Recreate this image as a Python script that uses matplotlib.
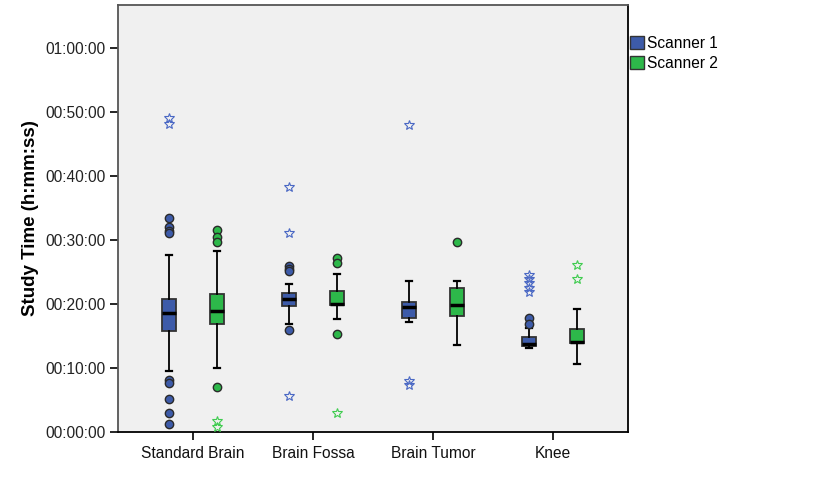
import matplotlib
matplotlib.use('Agg')
import matplotlib.pyplot as plt
from matplotlib.patches import Patch

plt.rcParams['font.family'] = ['Liberation Sans', 'DejaVu Sans']

# study time in minutes
categories = ['Standard Brain', 'Brain Fossa', 'Brain Tumor', 'Knee']
series = ['Scanner 1', 'Scanner 2']

s1_whislo = [9.4, 16.75, 17.05, 13.1]
s1_q1 = [15.7, 19.6, 17.7, 13.4]
s1_med = [18.45, 20.65, 19.5, 13.7]
s1_q3 = [20.65, 21.7, 20.2, 14.7]
s1_whishi = [27.6, 23.0, 23.5, 16.1]
s1_circles = [[33.3, 32.0, 31.4, 31.0, 8.05, 7.65, 5.1, 2.95, 1.1],
              [25.85, 25.45, 25.05, 15.85],
              [],
              [17.7, 16.75]]
s1_stars = [[48.95, 48.05],
            [38.25, 31.05, 5.6],
            [47.9, 7.9, 7.3],
            [24.5, 23.8, 23.15, 22.45, 21.75]]

s2_whislo = [9.9, 17.6, 13.5, 10.55]
s2_q1 = [16.75, 19.75, 18.1, 13.8]
s2_med = [18.9, 19.9, 19.8, 14.05]
s2_q3 = [21.45, 21.9, 22.4, 16.05]
s2_whishi = [28.2, 24.65, 23.5, 19.2]
s2_circles = [[31.5, 30.35, 29.6, 7.0],
              [27.15, 26.4, 15.25],
              [29.6],
              []]
s2_stars = [[1.7, 0.75],
            [2.85],
            [],
            [26.05, 23.85]]

ytick_labels = ['00:00:00', '00:10:00', '00:20:00', '00:30:00',
                '00:40:00', '00:50:00', '01:00:00']

colors = ['#3d5ba9', '#2db84a']
star_colors = ['#4a68c4', '#3fcc4f']

fig = plt.figure(figsize=(8.38, 5.0), dpi=100)
ax = fig.add_axes([0.1414, 0.137, 0.608, 0.853])
ax.set_facecolor('#f0f0f0')

groups = [
    (s1_whislo, s1_q1, s1_med, s1_q3, s1_whishi, s1_circles, s1_stars),
    (s2_whislo, s2_q1, s2_med, s2_q3, s2_whishi, s2_circles, s2_stars),
]
offsets = [-0.2, 0.2]

for k, (wlo, q1, med, q3, whi, circ, stars) in enumerate(groups):
    stats = []
    for i in range(len(categories)):
        stats.append({'whislo': wlo[i], 'q1': q1[i], 'med': med[i],
                      'q3': q3[i], 'whishi': whi[i], 'fliers': []})
    pos = [i + offsets[k] for i in range(len(categories))]
    ax.bxp(stats, positions=pos, widths=0.11, patch_artist=True,
           showfliers=False, manage_ticks=False,
           boxprops=dict(facecolor=colors[k], edgecolor='#333333', linewidth=1.3),
           medianprops=dict(color='black', linewidth=2.5),
           whiskerprops=dict(color='black', linewidth=1.3),
           capprops=dict(color='black', linewidth=1.6),
           capwidths=0.05)
    for i in range(len(categories)):
        if circ[i]:
            ax.plot([pos[i]] * len(circ[i]), circ[i], 'o', ms=6,
                    mfc=colors[k], mec='#2a2a2a', mew=1.0, zorder=4)
        if stars[i]:
            ax.plot([pos[i]] * len(stars[i]), stars[i], '*', ms=7.5,
                    mfc='none', mec=star_colors[k], mew=0.8, zorder=4)

ax.set_xlim(-0.62, 3.625)
ax.set_ylim(0, 66.65)
ax.set_xticks(range(len(categories)))
ax.set_xticklabels(categories, fontsize=11.2, color='#111111')
ax.set_yticks([0, 10, 20, 30, 40, 50, 60])
ax.set_yticklabels(ytick_labels, fontsize=11.2, color='#222222')
ax.tick_params(axis='both', direction='out', length=6, width=1.2, pad=3)
ax.tick_params(axis='x', pad=4.5)
ax.set_ylabel('Study Time (h:mm:ss)', fontsize=13.5, fontweight='bold', labelpad=5)

ax.spines['left'].set_color('#555555')
ax.spines['top'].set_color('#555555')
ax.spines['bottom'].set_color('black')
ax.spines['right'].set_color('black')
for s in ax.spines.values():
    s.set_linewidth(1.3)

handles = [Patch(facecolor=colors[k], edgecolor='#333333', linewidth=1.0, label=series[k])
           for k in range(2)]
fig.legend(handles=handles, loc='upper left', bbox_to_anchor=(630 / 838, 1 - 36 / 500),
           frameon=False, fontsize=11.2, handlelength=0.9, handleheight=0.95,
           handletextpad=0.2, borderpad=0, borderaxespad=0, labelspacing=0.3)

fig.savefig('out.png', dpi=100)
